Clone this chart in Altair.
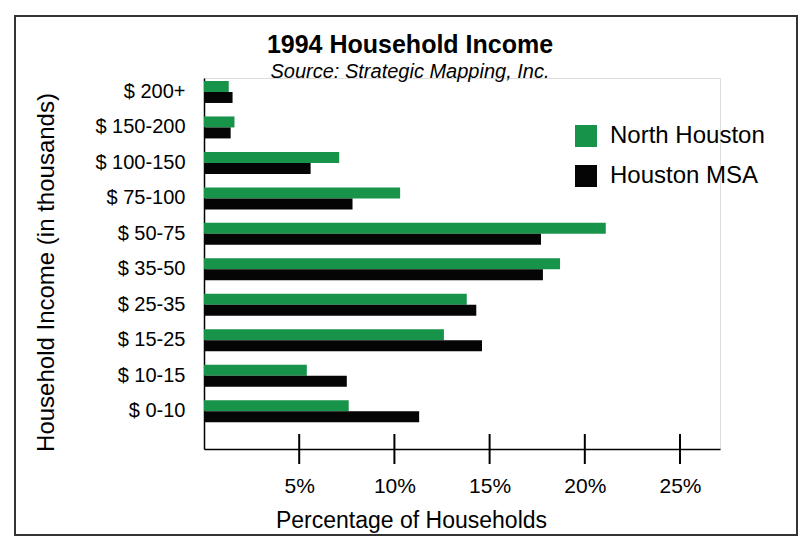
import altair as alt
import pandas as pd

categories = ["$ 200+", "$ 150-200", "$ 100-150", "$ 75-100", "$ 50-75",
              "$ 35-50", "$ 25-35", "$ 15-25", "$ 10-15", "$ 0-10"]
series_names = ["North Houston", "Houston MSA"]
north = [1.3, 1.6, 7.1, 10.3, 21.1, 18.7, 13.8, 12.6, 5.4, 7.6]
msa = [1.5, 1.4, 5.6, 7.8, 17.7, 17.8, 14.3, 14.6, 7.5, 11.3]
tick_values = [5, 10, 15, 20, 25]
colors = ["#17934a", "#050505"]

FONT = "Liberation Sans"

rows = []
for c, n, m in zip(categories, north, msa):
    rows.append({"income": c, "series": series_names[0], "pct": n})
    rows.append({"income": c, "series": series_names[1], "pct": m})
df = pd.DataFrame(rows)
ticks_df = pd.DataFrame({"pct": tick_values})

xscale = alt.Scale(domain=[0, 27.1], nice=False, zero=True)
xaxis = alt.Axis(
    values=tick_values, labelExpr="datum.value + '%'", ticks=False, tickSize=0,
    grid=False, domainColor="black", domainWidth=1.5, labelFontSize=21,
    labelPadding=26, labelFont=FONT, labelColor="black",
    title="Percentage of Households", titleX=207, titleY=78,
    titleBaseline="alphabetic", titleAlign="center", titleFontWeight="normal",
    titleFontSize=23, titleFont=FONT, titleColor="black",
)

bars = alt.Chart(df).mark_bar().encode(
    x=alt.X("pct:Q", scale=xscale, axis=xaxis),
    y=alt.Y(
        "income:N", sort=categories,
        scale=alt.Scale(paddingInner=0.38, paddingOuter=0.42, align=0.1),
        axis=alt.Axis(
            ticks=False, tickSize=0, labelPadding=19, labelFontSize=20,
            labelFont=FONT, labelColor="black", domainColor="black",
            domainWidth=1.5, grid=False,
            title="Household Income (in thousands)", titleX=-151, titleY=194,
            titleAngle=270, titleBaseline="alphabetic", titleAlign="center",
            titleFontWeight="normal", titleFontSize=24, titleFont=FONT,
            titleColor="black",
        ),
    ),
    yOffset=alt.YOffset("series:N", sort=series_names,
                        scale=alt.Scale(paddingInner=0, paddingOuter=0)),
    color=alt.Color(
        "series:N", sort=series_names,
        scale=alt.Scale(domain=series_names, range=colors),
        legend=alt.Legend(
            title=None, orient="none", legendX=370, legendY=46,
            symbolType="square", symbolSize=484, symbolStrokeWidth=0,
            symbolOpacity=1, labelFontSize=24, labelFont=FONT,
            labelColor="black", rowPadding=16, labelOffset=12,
        ),
    ),
)

tick_rules = alt.Chart(ticks_df).mark_rule(color="black", strokeWidth=2).encode(
    x=alt.X("pct:Q", scale=xscale, axis=xaxis),
    y=alt.value(356),
    y2=alt.value(386),
)

frame = alt.Chart(alt.Data(values=[{"f": 1}])).mark_rect(
    fill="white", fillOpacity=0, stroke="#333333", strokeWidth=2
).encode(
    x=alt.value(-189), x2=alt.value(593), y=alt.value(-62), y2=alt.value(457)
)

chart = alt.layer(frame, bars, tick_rules).properties(
    width=516,
    height=371,
    padding={"left": 196, "top": 70, "right": 78, "bottom": 87},
    autosize=alt.AutoSizeParams(type="none"),
    title=alt.TitleParams(
        text="1994 Household Income",
        subtitle="Source: Strategic Mapping, Inc.",
        anchor="middle", frame="group", dx=-52, offset=-67,
        font=FONT, fontSize=25, fontWeight="bold", color="black",
        subtitleFont=FONT, subtitleFontSize=20, subtitleFontStyle="italic",
        subtitleColor="black", subtitlePadding=4,
    ),
).configure_view(stroke=None).configure(background="white")

chart.save("out.html", embed_options={"renderer": "svg", "actions": False})
